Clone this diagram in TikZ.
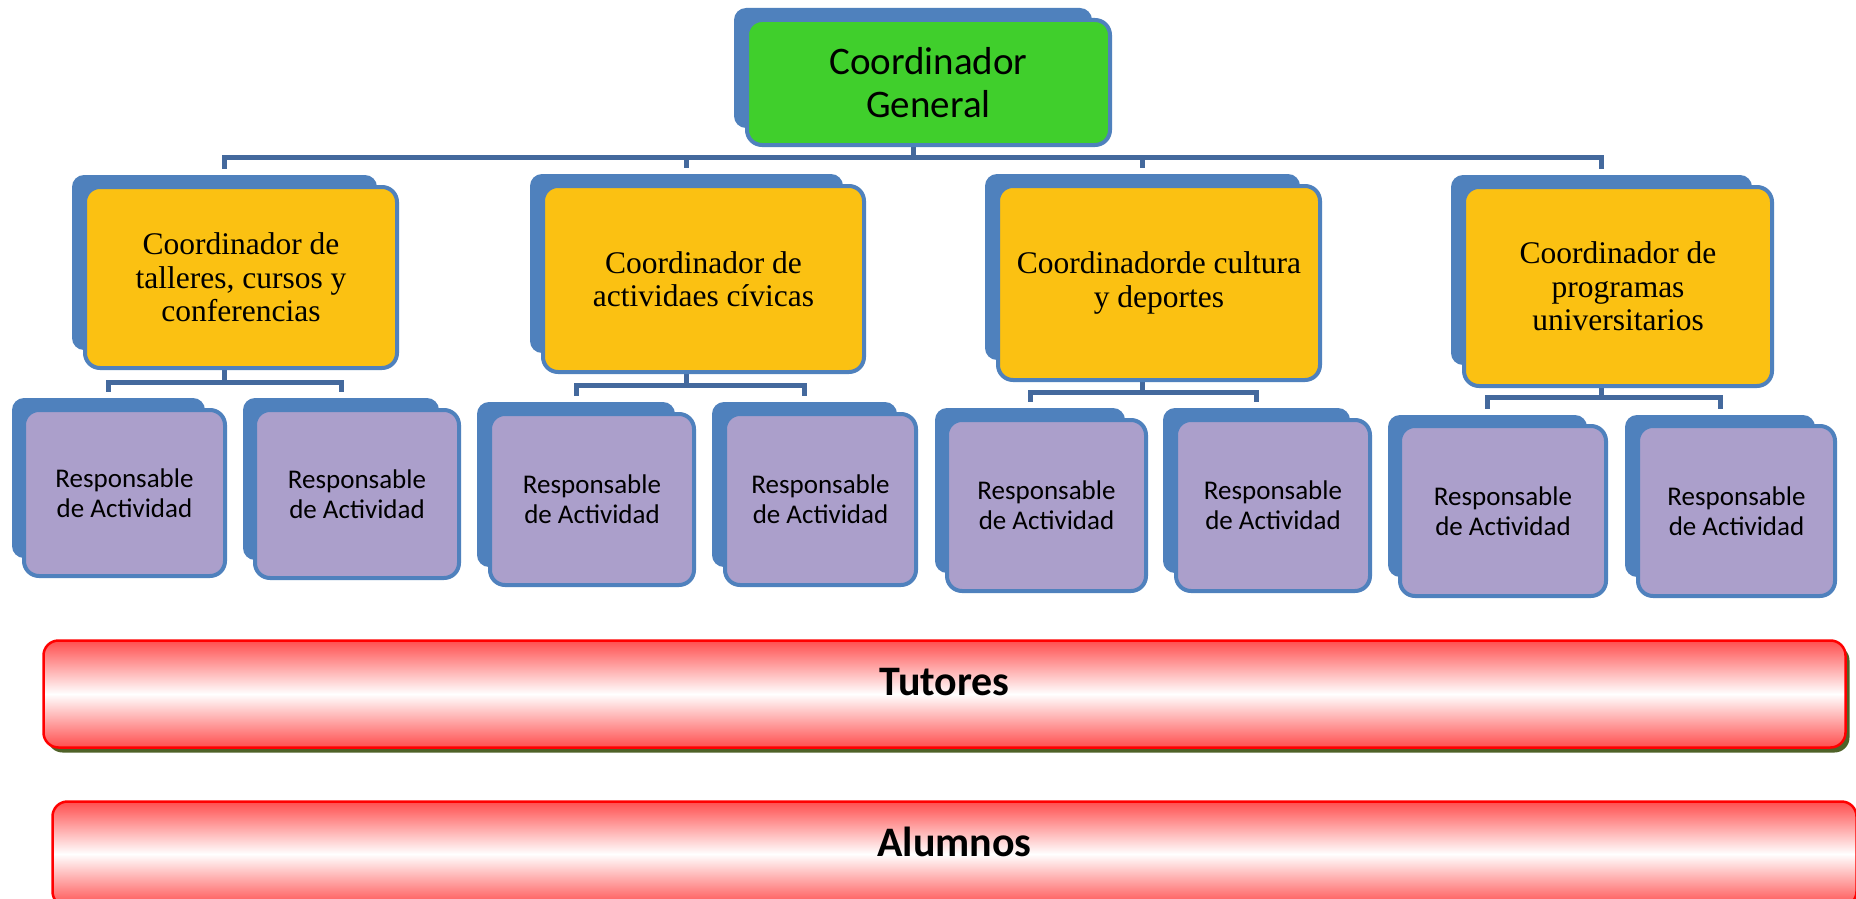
\documentclass[tikz,border=0pt]{standalone}
\usepackage{fontspec}
\setmainfont{Carlito}
\newfontfamily\garafont{Liberation Serif}
\usetikzlibrary{shadows}
\definecolor{boxblue}{HTML}{4F81BD}
\definecolor{connblue}{HTML}{44699D}
\definecolor{topgreen}{HTML}{40CF2C}
\definecolor{coordyellow}{HTML}{FBC112}
\definecolor{resppurple}{HTML}{AB9FCB}
\definecolor{barred}{RGB}{255,78,78}
\definecolor{shadowolive}{HTML}{4F6228}
\begin{document}
\begin{tikzpicture}[x=1pt, y=-1pt,
  backbox/.style={fill=boxblue, rounded corners=12pt, inner sep=0pt},
  frontbox/.style={draw=boxblue, line width=4pt, rounded corners=15pt, inner sep=0pt, align=center},
  topstyle/.style={frontbox, fill=topgreen, font=\fontsize{39}{43}\selectfont},
  coordstyle/.style={frontbox, fill=coordyellow, font=\garafont\fontsize{31.5}{33.5}\selectfont},
  respstyle/.style={frontbox, fill=resppurple, font=\fontsize{27}{30}\selectfont},
  conn/.style={draw=connblue, line width=5pt, shorten >=6pt},
  barbox/.style={top color=barred, bottom color=barred, middle color=white, draw=red, line width=2.5pt, rounded corners=15pt, inner sep=0pt,
    drop shadow={fill=shadowolive, opacity=1, shadow xshift=4pt, shadow yshift=-5pt}},
  bartext/.style={font=\bfseries\fontsize{42}{50}\selectfont, yshift=12pt}
]
\useasboundingbox (0,0) rectangle (1856,899);
\fill[white] (0,0) rectangle (1856,899);

% back boxes
\node[backbox, minimum width=358pt, minimum height=120pt] (topb) at (913,68) {};
\node[backbox, minimum width=305pt, minimum height=175pt] (g1b) at (224.5,262.5) {};
\node[backbox, minimum width=313pt, minimum height=179pt] (g2b) at (686.5,263.5) {};
\node[backbox, minimum width=315pt, minimum height=186pt] (g3b) at (1142.5,267) {};
\node[backbox, minimum width=301pt, minimum height=190pt] (g4b) at (1601.5,270) {};
\node[backbox, minimum width=193pt, minimum height=160pt] (p1b) at (108.5,478) {};
\node[backbox, minimum width=196pt, minimum height=162pt] (p2b) at (341,479) {};
\node[backbox, minimum width=198pt, minimum height=165pt] (p3b) at (576,484.5) {};
\node[backbox, minimum width=185pt, minimum height=165pt] (p4b) at (804.5,484.5) {};
\node[backbox, minimum width=190pt, minimum height=165pt] (p5b) at (1030,490.5) {};
\node[backbox, minimum width=187pt, minimum height=165pt] (p6b) at (1256.5,490.5) {};
\node[backbox, minimum width=199pt, minimum height=162pt] (p7b) at (1487.5,496) {};
\node[backbox, minimum width=190pt, minimum height=162pt] (p8b) at (1720,496) {};

% connectors
\foreach \g in {g1b,g2b,g3b,g4b}
  \draw[conn] (topb.south) -- ++(0,29) -| (\g.north);
\foreach \g/\a/\b in {g1b/p1b/p2b, g2b/p3b/p4b, g3b/p5b/p6b, g4b/p7b/p8b} {
  \draw[conn] (\g.south) -- ++(0,32.5) -| (\a.north);
  \draw[conn] (\g.south) -- ++(0,32.5) -| (\b.north);
}

% front boxes
\node[topstyle, minimum width=363pt, minimum height=125pt] (top) at (928.5,82.5) {Coordinador\\General};
\node[coordstyle, minimum width=312pt, minimum height=181pt] (g1) at (241,277.5) {Coordinador de\\talleres, cursos y\\conferencias};
\node[coordstyle, minimum width=321pt, minimum height=186pt] (g2) at (703.5,279) {Coordinador de\\actividaes cívicas};
\node[coordstyle, minimum width=322pt, minimum height=194pt] (g3) at (1159,283) {Coordinadorde cultura\\y deportes};
\node[coordstyle, minimum width=308pt, minimum height=199pt] (g4) at (1618,286.5) {Coordinador de\\programas\\universitarios};
\node[respstyle, minimum width=201pt, minimum height=166pt] (p1) at (124.5,493) {Responsable\\de Actividad};
\node[respstyle, minimum width=204pt, minimum height=168pt] (p2) at (357,494) {Responsable\\de Actividad};
\node[respstyle, minimum width=204pt, minimum height=171pt] (p3) at (592,499.5) {Responsable\\de Actividad};
\node[respstyle, minimum width=191pt, minimum height=171pt] (p4) at (820.5,499.5) {Responsable\\de Actividad};
\node[respstyle, minimum width=199pt, minimum height=171pt] (p5) at (1046.5,505.5) {Responsable\\de Actividad};
\node[respstyle, minimum width=194pt, minimum height=171pt] (p6) at (1273,505.5) {Responsable\\de Actividad};
\node[respstyle, minimum width=206pt, minimum height=170pt] (p7) at (1503,511) {Responsable\\de Actividad};
\node[respstyle, minimum width=197pt, minimum height=170pt] (p8) at (1736.5,511) {Responsable\\de Actividad};

% bars
\node[barbox, minimum width=1802pt, minimum height=107pt,
  label={[bartext]center:Tutores}] (tut) at (944.5,694) {};
\node[barbox, minimum width=1804pt, minimum height=105pt,
  label={[bartext]center:Alumnos}] (alu) at (954.5,854) {};
\end{tikzpicture}
\end{document}
